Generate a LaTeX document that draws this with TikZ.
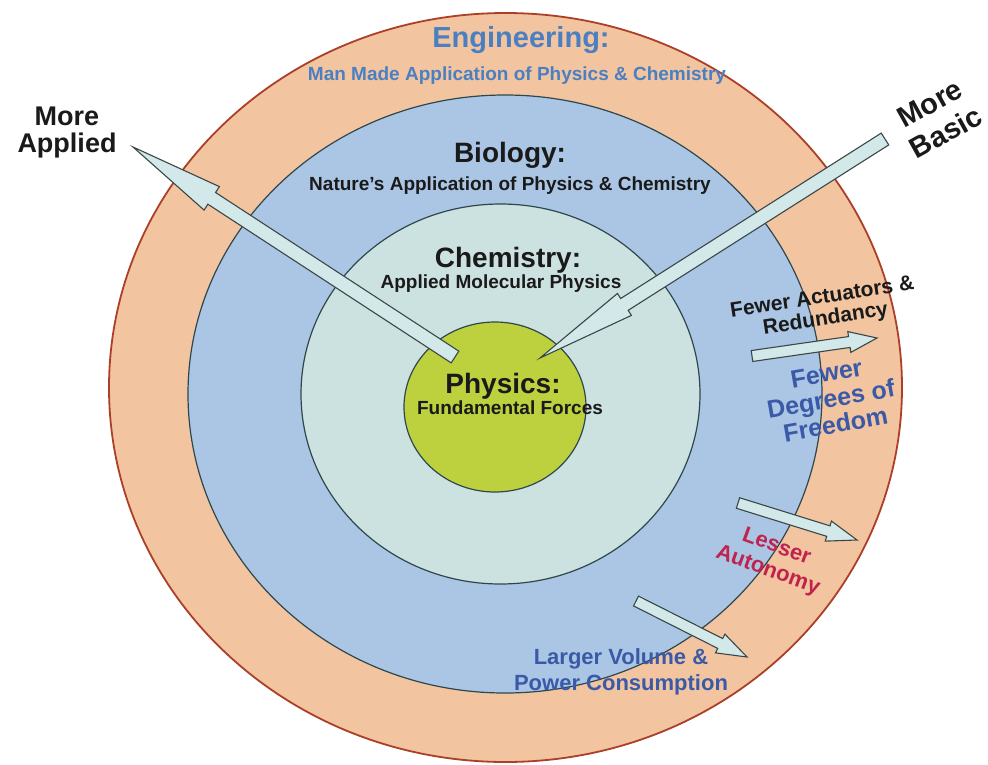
\documentclass[tikz,border=0pt]{standalone}
\usepackage{fontspec}
\setmainfont{Liberation Sans}
\usetikzlibrary{calc}

\definecolor{engfill}{HTML}{F2C4A0}
\definecolor{engline}{HTML}{AC3F28}
\definecolor{biofill}{HTML}{AAC6E4}
\definecolor{chemfill}{HTML}{CCE2E0}
\definecolor{physfill}{HTML}{BDD13F}
\definecolor{ringline}{HTML}{2E474C}
\definecolor{arrowfill}{HTML}{D3E9E9}
\definecolor{arrowline}{HTML}{3A4747}
\definecolor{engblue}{HTML}{4A80C2}
\definecolor{darkblue}{HTML}{3A5AA8}
\definecolor{crimson}{HTML}{C0234E}
\definecolor{ink}{HTML}{1A1A1A}

% block arrow: #1 tail, #2 tip, #3 shaft half width, #4 head half width, #5 head length
\newcommand{\blockarrow}[5]{%
  \coordinate (hb) at ($(#2)!#5!(#1)$);
  \draw[arrowbody]
    ($(#1)!#3!90:(#2)$) -- ($(hb)!#3!90:(#2)$) -- ($(hb)!#4!90:(#2)$) -- (#2)
    -- ($(hb)!#4!-90:(#2)$) -- ($(hb)!#3!-90:(#2)$) -- ($(#1)!#3!-90:(#2)$) -- cycle;
}

\begin{document}
\begin{tikzpicture}[x=1pt, y=-1pt,
  ring/.style={draw=ringline, line width=1.2pt},
  arrowbody/.style={fill=arrowfill, draw=arrowline, line width=1.1pt, line join=miter},
  lbl/.style={inner sep=0pt, text=ink},
  sz/.style n args={2}{font=\fontsize{#1pt}{#2pt}\selectfont\bfseries},
]
\useasboundingbox (0,0) rectangle (988,764);
\fill[white] (0,0) rectangle (988,764);

% nested fields
\draw[fill=engfill, draw=engline, line width=1.8pt] (505.5,387.5) ellipse [x radius=396.5pt, y radius=374.5pt];
\draw[ring, fill=biofill] (505,394) ellipse [x radius=317pt, y radius=299pt];
\draw[ring, fill=chemfill] (500.5,394) ellipse [x radius=199.5pt, y radius=190pt];
\draw[ring, fill=physfill] (495,407) ellipse [x radius=91pt, y radius=85pt];

% the two long arrows
\coordinate (applTail) at (455,357);
\coordinate (applTip) at (133,147);
\coordinate (basicTail) at (885,139);
\coordinate (basicTip) at (540,358);
\blockarrow{applTail}{applTip}{7pt}{14pt}{94pt}
\blockarrow{basicTail}{basicTip}{7pt}{13pt}{100pt}

% short arrows on the right
\coordinate (actTail) at (752,356);
\coordinate (actTip) at (877,338);
\coordinate (autTail) at (738,503);
\coordinate (autTip) at (857,540);
\coordinate (volTail) at (636,601);
\coordinate (volTip) at (747,657);
\blockarrow{actTail}{actTip}{5.5pt}{10.5pt}{28pt}
\blockarrow{autTail}{autTip}{5.5pt}{10.5pt}{30pt}
\blockarrow{volTail}{volTip}{5.5pt}{10.5pt}{30pt}

% field titles
\node[lbl, anchor=base, text=engblue, sz={29}{32}] (engT) at (521,47) {Engineering:};
\node[lbl, anchor=base, text=engblue, sz={19}{22}] (engS) at (517,80) {Man Made Application of Physics \& Chemistry};
\node[lbl, anchor=base, sz={28}{32}] (bioT) at (510,162) {Biology:};
\node[lbl, anchor=base, sz={19}{22}] (bioS) at (510,190) {Nature’s Application of Physics \& Chemistry};
\node[lbl, anchor=base, sz={28}{32}] (chemT) at (508,267) {Chemistry:};
\node[lbl, anchor=base, sz={19}{22}] (chemS) at (501,288) {Applied Molecular Physics};
\node[lbl, anchor=base, sz={28}{32}] (physT) at (503,393) {Physics:};
\node[lbl, anchor=base, sz={19}{22}] (physS) at (510,414) {Fundamental Forces};

% direction labels
\node[lbl, anchor=base, sz={27}{30}] (applA) at (67,125) {More};
\node[lbl, anchor=base, sz={27}{30}] (applB) at (67,152) {Applied};
\node[lbl, align=center, rotate=29, sz={29}{33}] (basic) at (938,118) {More\\Basic};

% side effects
\node[lbl, align=center, rotate=8.7, sz={21}{22}] (act) at (824,309) {Fewer Actuators \&\\Redundancy};
\node[lbl, align=center, rotate=10, text=darkblue, sz={25}{26}] (dof) at (831,399) {Fewer\\Degrees of\\Freedom};
\node[lbl, align=center, rotate=-20, text=crimson, sz={22}{25}] (aut) at (772,559) {Lesser\\Autonomy};
\node[lbl, anchor=base, text=darkblue, sz={22}{26}] (volA) at (621,664) {Larger Volume \&};
\node[lbl, anchor=base, text=darkblue, sz={22}{26}] (volB) at (621,690) {Power Consumption};
\end{tikzpicture}
\end{document}
